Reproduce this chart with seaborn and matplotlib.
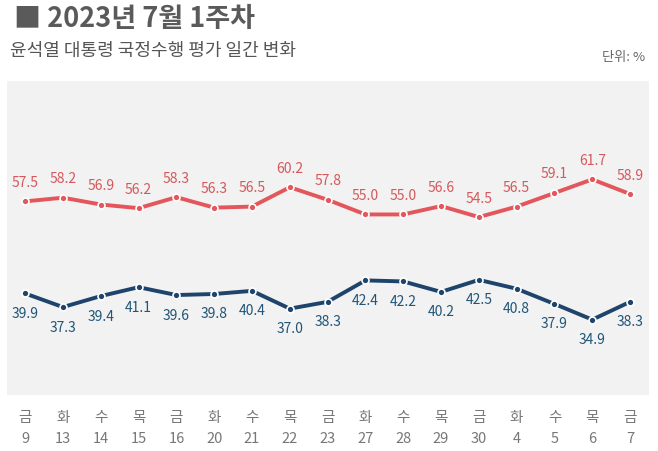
import matplotlib
matplotlib.use("Agg")
import matplotlib.pyplot as plt
import seaborn as sns
import pandas as pd

days = ["금", "화", "수", "목", "금", "화", "수", "목", "금", "화", "수", "목", "금", "화", "수", "목", "금"]
dates = ["9", "13", "14", "15", "16", "20", "21", "22", "23", "27", "28", "29", "30", "4", "5", "6", "7"]
negative = [57.5, 58.2, 56.9, 56.2, 58.3, 56.3, 56.5, 60.2, 57.8, 55.0, 55.0, 56.6, 54.5, 56.5, 59.1, 61.7, 58.9]
positive = [39.9, 37.3, 39.4, 41.1, 39.6, 39.8, 40.4, 37.0, 38.3, 42.4, 42.2, 40.2, 42.5, 40.8, 37.9, 34.9, 38.3]

sns.set_theme(style="white")
plt.rcParams['font.family'] = ['Noto Sans CJK KR', 'DejaVu Sans']

RED = "#e3565b"
RED_TXT = "#d4585c"
BLUE = "#1e446c"
BLUE_TXT = "#1f5578"

n = len(dates)
df = pd.DataFrame({
    "idx": list(range(n)) * 2,
    "value": negative + positive,
    "series": ["neg"] * n + ["pos"] * n,
})

fig = plt.figure(figsize=(6.58, 4.52), dpi=100)
fig.patch.set_facecolor("white")
ax = fig.add_axes([7/658, (452-396)/452, 642/658, 314/452])
ax.set_facecolor("#f2f2f2")

sns.lineplot(data=df, x="idx", y="value", hue="series",
             palette={"neg": RED, "pos": BLUE}, linewidth=2.8,
             marker="o", markersize=5, markeredgecolor="white", markeredgewidth=1.2,
             legend=False, ax=ax)

for i, v in enumerate(negative):
    ax.annotate(f"{v:.1f}", (i, v), xytext=(0, 9), textcoords="offset points",
                ha="center", va="bottom", fontsize=10, color=RED_TXT)
for i, v in enumerate(positive):
    ax.annotate(f"{v:.1f}", (i, v), xytext=(0, -9), textcoords="offset points",
                ha="center", va="top", fontsize=10, color=BLUE_TXT)

ax.set_xlim(-0.48, 16.5)
ax.set_ylim(20.5, 80.5)
ax.set_xticks(range(n))
ax.set_xticklabels([f"{d}\n{t}" for d, t in zip(days, dates)], fontsize=10.5,
                   color="#777777", linespacing=1.6)
ax.tick_params(axis="x", length=0, pad=11)
ax.set_yticks([])
ax.set_xlabel("")
ax.set_ylabel("")
for s in ax.spines.values():
    s.set_visible(False)

fig.text(14/658, 1 - 19/452, "■ 2023년 7월 1주차", fontsize=19.5, fontweight="bold",
         color="#5a5a5a", va="center", ha="left")
fig.text(10/658, 1 - 51/452, "윤석열 대통령 국정수행 평가 일간 변화", fontsize=13,
         color="#555555", va="center", ha="left")
fig.text(645/658, 1 - 58/452, "단위: %", fontsize=9.5, color="#666666",
         va="center", ha="right")

fig.savefig("out.png", dpi=100, facecolor="white")
